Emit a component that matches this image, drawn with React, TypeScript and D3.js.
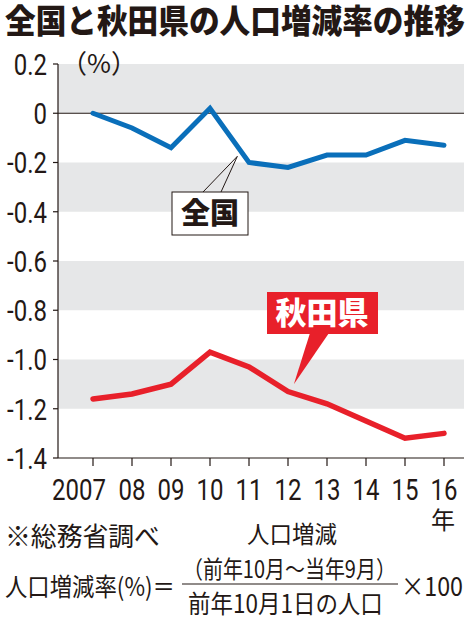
import { useLayoutEffect, useRef, useState } from "react";
import { line, scaleLinear } from "d3";

const years = [2007, 2008, 2009, 2010, 2011, 2012, 2013, 2014, 2015, 2016];
const yearLabels = ["2007", "08", "09", "10", "11", "12", "13", "14", "15", "16"];
const nationalRates = [0.0, -0.06, -0.14, 0.02, -0.2, -0.22, -0.17, -0.17, -0.11, -0.13];
const akitaRates = [-1.16, -1.14, -1.1, -0.97, -1.03, -1.13, -1.18, -1.25, -1.32, -1.3];
const yTicks = [0.2, 0, -0.2, -0.4, -0.6, -0.8, -1.0, -1.2, -1.4];
const yTickLabels = ["0.2", "0", "-0.2", "-0.4", "-0.6", "-0.8", "-1.0", "-1.2", "-1.4"];
const bands = [
  [0.2, 0],
  [-0.2, -0.4],
  [-0.6, -0.8],
  [-1.0, -1.2],
];

const JP = '"Noto Sans CJK JP", "Noto Sans", sans-serif';
const NUM = 'Roboto, "Noto Sans", sans-serif';
const ink = "#231815";

// squeezes a text horizontally to a given width, like the condensed type of the print chart
function FitText({
  x,
  y,
  width,
  size,
  weight = 400,
  fill = ink,
  children,
}: {
  x: number;
  y: number;
  width: number;
  size: number;
  weight?: number;
  fill?: string;
  children: string;
}) {
  const ref = useRef<SVGTextElement>(null);
  const [k, setK] = useState(1);
  useLayoutEffect(() => {
    const w = ref.current?.getComputedTextLength();
    if (w) setK(width / w);
  }, [width, children]);
  return (
    <g transform={`translate(${x},${y}) scale(${k},1)`}>
      <text ref={ref} fontFamily={JP} fontSize={size} fontWeight={weight} fill={fill}>
        {children}
      </text>
    </g>
  );
}

export default function App() {
  const width = 468;
  const height = 619;
  const left = 58;
  const right = 464;
  const top = 64;
  const bottom = 458;

  const x = scaleLinear().domain([2007, 2016]).range([93, 444]);
  const y = scaleLinear().domain([-1.4, 0.2]).range([bottom, top]);

  const path = line<number>()
    .x((_, i) => x(years[i]))
    .y((v) => y(v));

  const blue = "#0a6fba";
  const red = "#e8202a";

  return (
    <div style={{ position: "absolute", left: 0, top: 0 }}>
      <svg width={width} height={height} viewBox={`0 0 ${width} ${height}`} style={{ display: "block", background: "#fff" }}>
        <FitText x={5} y={33} width={460} size={33} weight={900}>
          全国と秋田県の人口増減率の推移
        </FitText>

        {bands.map(([a, b]) => (
          <rect key={a} x={left} y={y(a)} width={right - left} height={y(b) - y(a)} fill="#e6e7e8" />
        ))}

        <line x1={left} x2={right} y1={y(0)} y2={y(0)} stroke={ink} strokeWidth={1.2} />
        <line x1={left} x2={left} y1={top} y2={bottom} stroke={ink} strokeWidth={1.2} />
        <line x1={left} x2={right} y1={bottom} y2={bottom} stroke={ink} strokeWidth={1.2} />

        {yTicks.map((t, i) => (
          <g key={t}>
            <line x1={left - 5} x2={left} y1={y(t)} y2={y(t)} stroke={ink} strokeWidth={1.2} />
            <g transform={`translate(47,${y(t)}) scale(0.8,1)`}>
              <text textAnchor="end" dy="0.36em" fontFamily={NUM} fontSize={30} fill={ink}>
                {yTickLabels[i]}
              </text>
            </g>
          </g>
        ))}

        <text x={61} y={73} fontFamily={JP} fontSize={26} fill={ink}>
          （%）
        </text>

        {years.map((yr, i) => (
          <g key={yr}>
            <line x1={x(yr)} x2={x(yr)} y1={bottom} y2={bottom + 8} stroke={ink} strokeWidth={1.2} />
            <g transform={`translate(${i === 0 ? x(yr) + 13 : x(yr)},500) scale(0.8,1)`}>
              <text textAnchor={i === 0 ? "end" : "middle"} fontFamily={NUM} fontSize={30} fill={ink}>
                {yearLabels[i]}
              </text>
            </g>
          </g>
        ))}
        <text x={443} y={529} textAnchor="middle" fontFamily={JP} fontSize={24} fill={ink}>
          年
        </text>

        <path d={path(nationalRates) ?? ""} fill="none" stroke={blue} strokeWidth={5} strokeLinecap="round" strokeLinejoin="miter" />
        <path d={path(akitaRates) ?? ""} fill="none" stroke={red} strokeWidth={5.5} strokeLinecap="round" strokeLinejoin="miter" />

        {/* 全国 callout */}
        <line x1={203} y1={192} x2={x(2010.7)} y2={y(-0.175)} stroke={ink} strokeWidth={1} />
        <line x1={221} y1={192} x2={x(2010.7)} y2={y(-0.175)} stroke={ink} strokeWidth={1} />
        <rect x={172} y={192} width={76} height={43} fill="#fff" stroke={ink} strokeWidth={1} />
        <text x={210} y={224} textAnchor="middle" fontFamily={JP} fontWeight={900} fontSize={29} fill={ink}>
          全国
        </text>

        {/* 秋田県 callout */}
        <path d={`M310,333 L329,333 L${x(2012.15)},${y(-1.1)} Z`} fill={red} />
        <rect x={267} y={292} width={111} height={42} fill={red} />
        <text x={322} y={324} textAnchor="middle" fontFamily={JP} fontWeight={900} fontSize={31} fill="#fff">
          秋田県
        </text>

        {/* footer */}
        <FitText x={5} y={546} width={155} size={26}>
          ※総務省調べ
        </FitText>
        <FitText x={247} y={543} width={90} size={24}>
          人口増減
        </FitText>
        <FitText x={5} y={596} width={170} size={25}>
          人口増減率(%)＝
        </FitText>
        <FitText x={183} y={578} width={213} size={24}>
          （前年10月～当年9月）
        </FitText>
        <line x1={182} x2={398} y1={584} y2={584} stroke={ink} strokeWidth={1.2} />
        <FitText x={188} y={613} width={195} size={25}>
          前年10月1日の人口
        </FitText>
        <FitText x={401} y={596} width={62} size={26}>
          ×100
        </FitText>
      </svg>
    </div>
  );
}
